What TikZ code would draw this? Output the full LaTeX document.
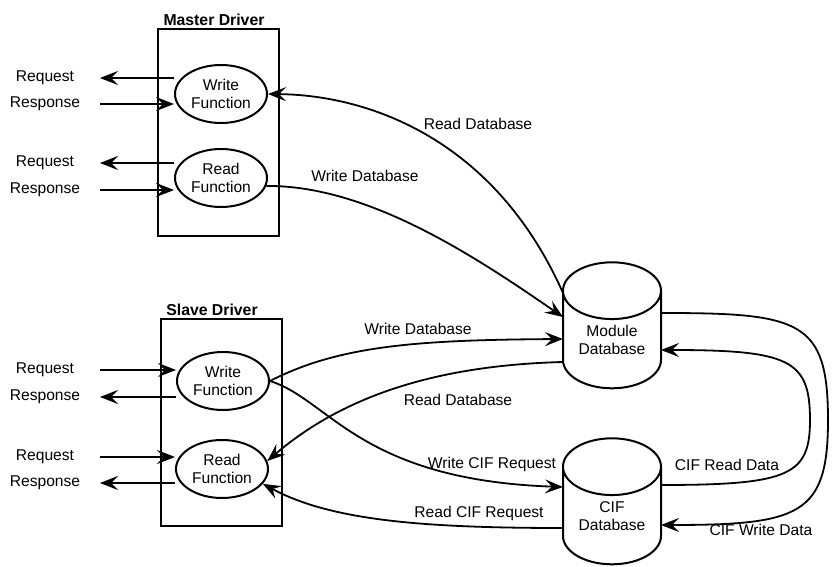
\documentclass[tikz,border=0pt]{standalone}
\usepackage{fontspec}
\setmainfont{Liberation Sans}
\usetikzlibrary{shapes.geometric,arrows.meta,calc}

\begin{document}
\begin{tikzpicture}[x=0.5pt,y=-0.5pt,
  font=\fontsize{7.8pt}{9pt}\selectfont,
  drv/.style={draw,line width=1pt,minimum width=60.5pt,minimum height=103.5pt,inner sep=0},
  ttl/.style={font=\fontsize{7.9pt}{9pt}\selectfont\bfseries},
  func/.style={draw,ellipse,line width=1pt,minimum width=46pt,minimum height=29pt,inner sep=0,align=center},
  db/.style={draw,cylinder,shape border rotate=90,aspect=0.85,line width=1pt,minimum width=49pt,minimum height=63pt,inner sep=0,align=center},
  io/.style={text width=40pt,align=center,inner sep=0,outer sep=7.5pt},
  arr/.style={-{Stealth[length=9pt,width=7pt,inset=3.5pt]},line width=0.9pt}]
  \path[fill=white,use as bounding box] (0,0) rectangle (832,567);
  % driver boxes
  \node[drv] (mbox) at (218.5,132.5) {};
  \node[ttl] (mttl) at (214,20) {Master Driver};
  \node[drv] (sbox) at (221.5,422.5) {};
  \node[ttl] (sttl) at (212,310) {Slave Driver};
  % functions
  \node[func] (mw) at (221,94) {Write\\Function};
  \node[func] (mr) at (221,178) {Read\\Function};
  \node[func] (sw) at (223,381) {Write\\Function};
  \node[func] (sr) at (222,469) {Read\\Function};
  % databases
  \node[db] (mdb) at (612,340) {Module\\Database};
  \node[db] (cdb) at (612,516) {CIF\\Database};
  % request / response
  \node[io] (mq1) at (45,78) {Request};
  \node[io] (mp1) at (45,104) {Response};
  \node[io] (mq2) at (45,163) {Request};
  \node[io] (mp2) at (45,190) {Response};
  \node[io] (sq1) at (45,370) {Request};
  \node[io] (sp1) at (45,397) {Response};
  \node[io] (sq2) at (45,457) {Request};
  \node[io] (sp2) at (45,483) {Response};
  \draw[arr] (mw.west |- mq1) -- (mq1.east);
  \draw[arr] (mp1.east) -- (mp1 -| mw.west);
  \draw[arr] (mr.west |- mq2) -- (mq2.east);
  \draw[arr] (mp2.east) -- (mp2 -| mr.west);
  \draw[arr] (sq1.east) -- (sq1 -| sw.west);
  \draw[arr] (sw.west |- sp1) -- (sp1.east);
  \draw[arr] (sq2.east) -- (sq2 -| sr.west);
  \draw[arr] (sr.west |- sp2) -- (sp2.east);
  % master <-> module database
  \draw[arr] ($(mdb.center)+(-49,-47)$) .. controls (495,140) and (370,95) .. (mw.east);
  \node (rd1) at (478,124) {Read Database};
  \draw[arr] (mr.350) .. controls (370,185) and (480,260) .. ($(mdb.center)+(-49,-23)$);
  \node (wd1) at (365,176) {Write Database};
  % slave <-> module database
  \draw[arr] (sw.east) .. controls (340,345) and (420,340) .. ($(mdb.center)+(-49,-1)$);
  \node (wd2) at (418,329) {Write Database};
  \draw[arr] ($(mdb.center)+(-49,22)$) .. controls (450,365) and (350,390) .. (sr.10);
  \node (rd2) at (458,400) {Read Database};
  % slave <-> cif database
  \draw[arr] (sw.east) .. controls (330,400) and (360,480) .. ($(cdb.center)+(-49,-29)$);
  \node (wc) at (492,464) {Write CIF Request};
  \draw[arr] ($(cdb.center)+(-49,12)$) .. controls (420,528) and (330,520) .. (sr.-20);
  \node (rc) at (479,513) {Read CIF Request};
  % module <-> cif database
  \draw[arr] ($(mdb.center)+(49,-27)$) .. controls (800,313) and (828,320) .. (828,420)
    .. controls (828,515) and (800,525) .. ($(cdb.center)+(49,9)$);
  \node (cw) at (761,530) {CIF Write Data};
  \draw[arr] ($(cdb.center)+(49,-31)$) .. controls (790,485) and (810,475) .. (810,420)
    .. controls (810,360) and (790,350) .. ($(mdb.center)+(49,10)$);
  \node (cr) at (727,465) {CIF Read Data};
\end{tikzpicture}
\end{document}
